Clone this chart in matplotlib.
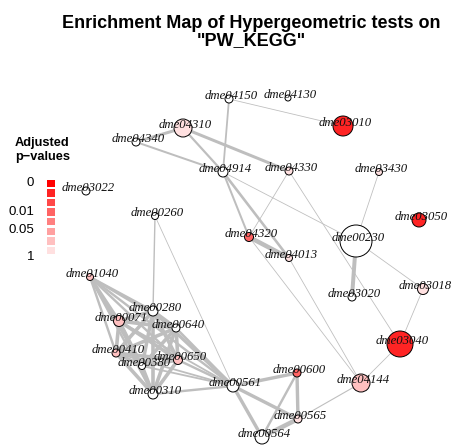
import numpy as np
import matplotlib
matplotlib.use('Agg')
from matplotlib import pyplot as plt

# node layout (pixel coords of the network layout), set size, adjusted p-value
names = ['dme04150', 'dme04130', 'dme03010', 'dme04310', 'dme04340', 'dme03022',
         'dme04914', 'dme04330', 'dme03430', 'dme03050', 'dme00260', 'dme00230',
         'dme04320', 'dme04013', 'dme03020', 'dme03018', 'dme01040', 'dme00280',
         'dme00071', 'dme00640', 'dme00410', 'dme00380', 'dme00650', 'dme00310',
         'dme00561', 'dme03040', 'dme04144', 'dme00600', 'dme00565', 'dme00564']
node_x = [229, 288, 343, 183, 136, 86, 223, 289, 379, 419, 155, 356, 249, 289, 352,
          423, 90, 153, 119, 176, 116, 142, 178, 153, 233, 400, 361, 297, 298, 262]
node_y = [99, 98, 126, 128, 142, 191, 172, 171, 172, 220, 216, 241, 237, 258, 297,
          289, 277, 311, 321, 328, 353, 366, 360, 394, 386, 344, 383, 373, 419, 437]
node_r = [4, 3, 10, 9, 4, 4, 5, 4, 3.5, 7, 3.5, 16, 4.5, 3.5, 4, 5.5, 3.5, 5, 5.5,
          4, 4, 3.5, 4.5, 5, 6, 13, 9, 4, 4, 7]
pvals = [1, 1, 0.002, 0.5, 1, 1, 1, 0.5, 0.5, 0.002, 1, 1, 0.015, 0.5, 1, 0.5, 0.2,
         1, 0.2, 1, 0.2, 1, 0.2, 1, 1, 0.002, 0.2, 0.015, 0.5, 1]

# edges: source, target, overlap weight
edge_a = ['dme04150', 'dme04150', 'dme04310', 'dme04310', 'dme04310', 'dme04340',
          'dme04914', 'dme04914', 'dme04914', 'dme04330', 'dme04330', 'dme04320',
          'dme04320', 'dme04013', 'dme00230', 'dme00230', 'dme00230', 'dme03018',
          'dme03040', 'dme04144', 'dme00260', 'dme00260', 'dme00561', 'dme00561',
          'dme00561', 'dme00600', 'dme00600', 'dme00564', 'dme00561',
          'dme01040', 'dme01040', 'dme01040', 'dme01040', 'dme01040', 'dme01040', 'dme01040', 'dme01040',
          'dme00561', 'dme00561', 'dme00561', 'dme00561', 'dme00561', 'dme00561',
          'dme00280', 'dme00280', 'dme00280', 'dme00280', 'dme00280', 'dme00280',
          'dme00071', 'dme00071', 'dme00071', 'dme00071', 'dme00071',
          'dme00640', 'dme00640', 'dme00640', 'dme00640',
          'dme00410', 'dme00410', 'dme00410',
          'dme00380', 'dme00380', 'dme00650']
edge_b = ['dme03010', 'dme04914', 'dme04340', 'dme04914', 'dme04330', 'dme04914',
          'dme04320', 'dme04013', 'dme00230', 'dme04320', 'dme03040', 'dme04013',
          'dme04144', 'dme04144', 'dme03020', 'dme03430', 'dme03018', 'dme03040',
          'dme04144', 'dme00565', 'dme00280', 'dme00561', 'dme00600', 'dme00564',
          'dme00565', 'dme00565', 'dme00564', 'dme00565', 'dme00310',
          'dme00280', 'dme00071', 'dme00640', 'dme00410', 'dme00380', 'dme00650', 'dme00310', 'dme00561',
          'dme00280', 'dme00640', 'dme00650', 'dme00380', 'dme00410', 'dme00071',
          'dme00071', 'dme00640', 'dme00410', 'dme00380', 'dme00650', 'dme00310',
          'dme00640', 'dme00410', 'dme00380', 'dme00650', 'dme00310',
          'dme00410', 'dme00380', 'dme00650', 'dme00310',
          'dme00380', 'dme00650', 'dme00310',
          'dme00650', 'dme00310', 'dme00310']
edge_w = [0.8, 1.8, 3.0, 2.2, 3.0, 2.0,
          2.0, 2.6, 0.8, 0.8, 0.8, 4.5,
          0.8, 0.8, 4.0, 0.8, 0.8, 0.8,
          0.8, 1.1, 1.4, 0.8, 3.4, 3.4,
          3.4, 3.4, 2.4, 4.5, 2.4,
          2.4, 3.2, 2.4, 2.4, 2.4, 2.4, 2.4, 2.4,
          3.4, 2.4, 2.4, 1.8, 1.8, 1.8,
          3.6, 3.6, 3.6, 3.6, 3.6, 3.6,
          3.6, 3.6, 3.6, 3.6, 3.6,
          3.6, 3.6, 3.6, 3.6,
          3.6, 3.6, 3.6,
          3.6, 3.6, 3.6]

legend_colors = ['#FF0000', '#FF2424', '#FF4848', '#FF6464', '#FF8080',
                 '#FFA0A0', '#FFC0C0', '#FFE0E0']
legend_ticks = ['0', '0.01', '0.05', '1']
p_breaks = [0.001, 0.005, 0.01, 0.02, 0.05, 0.1, 0.3, 0.999]

fig = plt.figure(figsize=(4.52, 4.46), dpi=100)
ax = fig.add_axes([0, 0, 1, 1])
ax.set_xlim(0, 452)
ax.set_ylim(446, 0)
ax.axis('off')

pos = {n: (node_x[i], node_y[i]) for i, n in enumerate(names)}

for a, b, w in zip(edge_a, edge_b, edge_w):
    ax.plot([pos[a][0], pos[b][0]], [pos[a][1], pos[b][1]], color='#BEBEBE',
            lw=w * 0.72, zorder=1, solid_capstyle='butt')

lvl = np.digitize(pvals, p_breaks)
cols = [legend_colors[l] if l < 8 else 'white' for l in lvl]
sizes = [(2 * r * 0.72) ** 2 for r in node_r]
ax.scatter(node_x, node_y, s=sizes, c=cols, edgecolors='black', linewidths=0.7,
           zorder=2)

for i, n in enumerate(names):
    ax.text(node_x[i] + 2, node_y[i] - 3, n, ha='center', va='center',
            family='Liberation Serif', style='italic', fontsize=9.2, color='#111111',
            zorder=3)

# title
ax.text(251, 32, 'Enrichment Map of Hypergeometric tests on\n"PW_KEGG"',
        ha='center', va='center', fontsize=13, fontweight='bold',
        family='Liberation Sans', linespacing=1.05)

# legend
ax.text(15, 150, 'Adjusted\np\u2212values', ha='left', va='center',
        fontsize=9.2, fontweight='bold', family='Liberation Sans', linespacing=1.15)
for k, c in enumerate(legend_colors):
    ax.add_patch(plt.Rectangle((47, 179.5 + k * 9.6), 8.5, 7.5, color=c, lw=0))
tick_y = [183, 212, 230, 257]
for t, yy in zip(legend_ticks, tick_y):
    ax.text(34, yy, t, ha='right', va='center', fontsize=9.5, family='Liberation Sans')

plt.savefig('out.png', dpi=100)
